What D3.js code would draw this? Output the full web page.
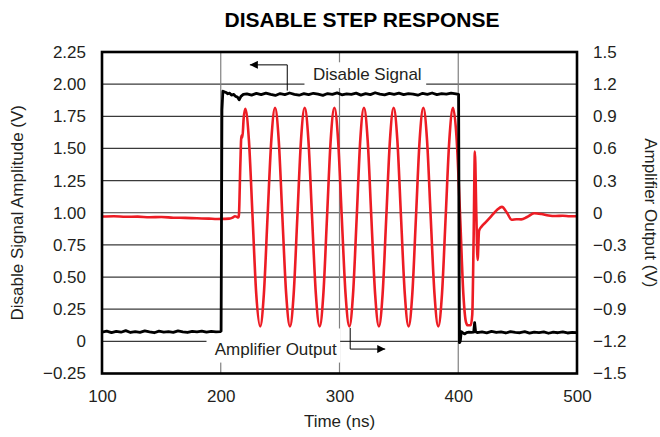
<!DOCTYPE html>
<html>
<head>
<meta charset="utf-8">
<script src="https://cdn.jsdelivr.net/npm/d3@7"></script>
<style>
  body { margin: 0; background: #fff; }
  text { font-family: "Liberation Sans", Arial, sans-serif; fill: #231f20; }
</style>
</head>
<body>
<div id="chart"></div>
<script>
// x ticks (ns)
var timeTicks = [100, 200, 300, 400, 500];
var timeGrid = [200, 300, 400];

// left axis: disable signal amplitude (V)
var leftTicks = [-0.25, 0, 0.25, 0.5, 0.75, 1.0, 1.25, 1.5, 1.75, 2.0, 2.25];
var leftLabels = ["\u22120.25", "0", "0.25", "0.50", "0.75", "1.00", "1.25", "1.50", "1.75", "2.00", "2.25"];

// right axis: amplifier output (V)
var rightTicks = [-1.5, -1.2, -0.9, -0.6, -0.3, 0, 0.3, 0.6, 0.9, 1.2, 1.5];
var rightLabels = ["\u22121.5", "\u22121.2", "\u22120.9", "\u22120.6", "\u22120.3", "0", "0.3", "0.6", "0.9", "1.2", "1.5"];

// disable signal trace (left axis)
var disableTime = [100, 104, 108, 112, 116, 120, 124, 128, 132, 136, 140, 144, 148, 152, 156, 160, 164, 168, 172, 176, 180, 184, 188, 192, 196, 199.6,
  200.3, 201.0, 201.8, 203, 204.5, 206, 207.5, 209, 211, 212.5, 214, 215.5, 217, 219,
  222, 226, 230, 234, 238, 242, 246, 250, 254, 258, 262, 266, 270, 274, 278, 282, 286, 290, 294, 298,
  302, 306, 310, 314, 318, 322, 326, 330, 334, 338, 342, 346, 350, 354, 358, 362, 366, 370, 374, 378,
  382, 386, 390, 394, 398, 400.3,
  401.0, 401.7, 402.5, 404, 405.5, 407, 409, 411, 413, 413.8, 414.6, 416,
  420, 424, 428, 432, 436, 440, 444, 448, 452, 456, 460, 464, 468, 472, 476, 480, 484, 488, 492, 496, 500];
var disableVolts = [0.072, 0.080, 0.068, 0.078, 0.071, 0.083, 0.069, 0.076, 0.070, 0.081, 0.073, 0.067, 0.079, 0.072, 0.075, 0.070, 0.082, 0.074, 0.069, 0.078, 0.073, 0.080, 0.071, 0.077, 0.074, 0.076,
  0.08, 1.80, 1.945, 1.94, 1.935, 1.925, 1.93, 1.915, 1.92, 1.905, 1.90, 1.878, 1.905, 1.92,
  1.925, 1.915, 1.928, 1.918, 1.93, 1.920, 1.912, 1.927, 1.919, 1.931, 1.921, 1.914, 1.926, 1.918, 1.929, 1.922, 1.913, 1.927, 1.920, 1.932,
  1.917, 1.925, 1.921, 1.930, 1.915, 1.926, 1.919, 1.933, 1.922, 1.916, 1.928, 1.921, 1.930, 1.918, 1.926, 1.923, 1.914, 1.929, 1.921, 1.931,
  1.918, 1.926, 1.922, 1.930, 1.924, 1.92,
  -0.01, 0.0, 0.075, 0.065, 0.058, 0.068, 0.072, 0.070, 0.071, 0.145, 0.075, 0.068,
  0.074, 0.066, 0.077, 0.069, 0.073, 0.065, 0.076, 0.070, 0.067, 0.075, 0.064, 0.072, 0.068, 0.074, 0.063, 0.071, 0.067, 0.073, 0.065, 0.070, 0.068];

// amplifier output trace (right axis)
var ampTime = [100, 110, 120, 130, 140, 150, 160, 170, 180, 190, 197, 203, 207, 210, 212, 213.5, 214.8,
  215.3, 216.5, 217.4, 218.2, 219.3, 220.6, 223.7, 226.8, 229.9, 233.2, 236.3, 239.4, 242.6,
  245.7, 248.8, 251.9, 255.1, 258.3, 261.4, 264.5, 267.6,
  270.7, 273.8, 276.9, 280.1, 283.3, 286.4, 289.5, 292.6,
  295.7, 298.8, 301.9, 305.1, 308.3, 311.4, 314.5, 317.5,
  320.6, 323.7, 326.8, 330.0, 333.2, 336.3, 339.4, 342.5,
  345.6, 348.7, 351.8, 355.0, 358.2, 361.3, 364.4, 367.5,
  370.6, 373.7, 376.8, 380.0, 383.2, 386.3, 389.4, 392.5,
  395.6, 398.7, 401.6, 404.3, 406.5, 408, 410.5, 411.8, 413.0, 414.0, 415.2, 416.3, 417.5, 419.5,
  423, 428, 433, 436.8, 441, 445, 449, 453, 458, 464, 470, 476, 482, 488, 494, 500];
var ampVolts = [-0.035, -0.032, -0.038, -0.036, -0.042, -0.040, -0.046, -0.048, -0.052, -0.055, -0.058, -0.057, -0.055, -0.045, -0.032, -0.038, -0.045,
  -0.02, 0.45, 0.72, 0.70, 0.88, 0.97, 0.68, -0.04, -0.76, -1.06, -0.76, -0.04, 0.68,
  0.98, 0.68, -0.04, -0.76, -1.06, -0.76, -0.04, 0.68,
  0.98, 0.68, -0.04, -0.76, -1.06, -0.76, -0.04, 0.68,
  0.98, 0.68, -0.04, -0.76, -1.06, -0.76, -0.04, 0.68,
  0.98, 0.68, -0.04, -0.76, -1.06, -0.76, -0.04, 0.68,
  0.98, 0.68, -0.04, -0.76, -1.06, -0.76, -0.04, 0.68,
  0.98, 0.68, -0.04, -0.76, -1.06, -0.76, -0.04, 0.68,
  0.98, 0.68, -0.04, -0.76, -1.02, -1.05, -1.05, -0.95, -0.2, 0.57, 0.0, -0.44, -0.17, -0.13,
  -0.09, -0.03, 0.03, 0.055, 0.0, -0.065, -0.06, -0.062, -0.04, -0.005, -0.012, -0.025, -0.03, -0.028, -0.033, -0.032];

var width = 660,
    height = 437;
var margin = { top: 52, right: 83, bottom: 63.5, left: 102 };
var plotW = width - margin.left - margin.right,
    plotH = height - margin.top - margin.bottom;

var svg = d3.select("#chart")
  .append("svg")
    .attr("width", width)
    .attr("height", height);

var x = d3.scaleLinear().domain([100, 500]).range([margin.left, margin.left + plotW]);
var yLeft = d3.scaleLinear().domain([-0.25, 2.25]).range([margin.top + plotH, margin.top]);
var yRight = d3.scaleLinear().domain([-1.5, 1.5]).range([margin.top + plotH, margin.top]);

// title
svg.append("text")
  .attr("x", 362)
  .attr("y", 26.5)
  .attr("text-anchor", "middle")
  .attr("font-size", "21px")
  .attr("font-weight", "bold")
  .style("fill", "#000")
  .text("DISABLE STEP RESPONSE");

// grid
var grid = svg.append("g");
grid.selectAll("line.h")
  .data(leftTicks.slice(1, -1))
  .enter()
    .append("line")
      .attr("class", "h")
      .attr("x1", margin.left)
      .attr("x2", margin.left + plotW)
      .attr("y1", function(d) { return yLeft(d); })
      .attr("y2", function(d) { return yLeft(d); })
      .attr("stroke", "#3a3a3a")
      .attr("stroke-width", 1.2);
grid.selectAll("line.v")
  .data(timeGrid)
  .enter()
    .append("line")
      .attr("class", "v")
      .attr("x1", function(d) { return x(d); })
      .attr("x2", function(d) { return x(d); })
      .attr("y1", margin.top)
      .attr("y2", margin.top + plotH)
      .attr("stroke", "#808080")
      .attr("stroke-width", 1.2);

// white boxes behind the trace labels
svg.append("rect")
  .attr("x", x(270.5)).attr("y", yLeft(2.17))
  .attr("width", x(373) - x(270.5)).attr("height", yLeft(1.97) - yLeft(2.17))
  .attr("fill", "#fff");
svg.append("rect")
  .attr("x", x(188)).attr("y", yLeft(0.1))
  .attr("width", x(300.5) - x(188)).attr("height", yLeft(-0.165) - yLeft(0.1))
  .attr("fill", "#fff");

// annotations
svg.append("defs").append("marker")
    .attr("id", "head")
    .attr("viewBox", "0 0 10 10")
    .attr("refX", 10).attr("refY", 5)
    .attr("markerWidth", 14).attr("markerHeight", 8)
    .attr("markerUnits", "userSpaceOnUse")
    .attr("orient", "auto")
  .append("path")
    .attr("d", "M0,0L10,5L0,10Z")
    .attr("fill", "#000");

svg.append("path")
  .attr("d", "M" + x(256) + "," + yLeft(1.95) + "V" + yLeft(2.15) + "H" + x(224.5))
  .attr("fill", "none").attr("stroke", "#000").attr("stroke-width", 1)
  .attr("marker-end", "url(#head)");
svg.append("path")
  .attr("d", "M" + x(309) + "," + yLeft(0.105) + "V" + yLeft(-0.06) + "H" + x(338.5))
  .attr("fill", "none").attr("stroke", "#000").attr("stroke-width", 1)
  .attr("marker-end", "url(#head)");

svg.append("text")
  .attr("x", x(323.4)).attr("y", yLeft(2.03))
  .attr("text-anchor", "middle").attr("font-size", "17px")
  .text("Disable Signal");
svg.append("text")
  .attr("x", x(246.3)).attr("y", yLeft(-0.106))
  .attr("text-anchor", "middle").attr("font-size", "17px")
  .text("Amplifier Output");

// traces
var disableData = disableTime.map(function(t, i) { return { t: t, v: disableVolts[i] }; });
var ampData = ampTime.map(function(t, i) { return { t: t, v: ampVolts[i] }; });

svg.append("path")
  .datum(ampData)
  .attr("fill", "none")
  .attr("stroke", "#ed1c24")
  .attr("stroke-width", 2.6)
  .attr("stroke-linejoin", "round")
  .attr("d", d3.line()
    .curve(d3.curveMonotoneX)
    .x(function(d) { return x(d.t); })
    .y(function(d) { return yRight(d.v); }));

svg.append("path")
  .datum(disableData)
  .attr("fill", "none")
  .attr("stroke", "#000")
  .attr("stroke-width", 2.8)
  .attr("stroke-linejoin", "round")
  .attr("d", d3.line()
    .x(function(d) { return x(d.t); })
    .y(function(d) { return yLeft(d.v); }));

// frame
svg.append("rect")
  .attr("x", margin.left).attr("y", margin.top)
  .attr("width", plotW).attr("height", plotH)
  .attr("fill", "none").attr("stroke", "#000").attr("stroke-width", 2.6);

// axes
var leftAxis = svg.append("g")
  .attr("transform", "translate(" + margin.left + ",0)")
  .call(d3.axisLeft(yLeft).tickValues(leftTicks)
    .tickFormat(function(d, i) { return leftLabels[i]; })
    .tickSize(0).tickPadding(16));
var rightAxis = svg.append("g")
  .attr("transform", "translate(" + (margin.left + plotW) + ",0)")
  .call(d3.axisRight(yRight).tickValues(rightTicks)
    .tickFormat(function(d, i) { return rightLabels[i]; })
    .tickSize(0).tickPadding(16));
var bottomAxis = svg.append("g")
  .attr("transform", "translate(0," + (margin.top + plotH) + ")")
  .call(d3.axisBottom(x).tickValues(timeTicks)
    .tickFormat(d3.format("d"))
    .tickSize(0).tickPadding(16.5));

[leftAxis, rightAxis, bottomAxis].forEach(function(axis) {
  axis.select(".domain").remove();
  axis.selectAll(".tick text")
    .attr("font-size", "17px")
    .attr("font-family", null)
    .style("fill", "#231f20");
});

// axis titles
svg.append("text")
  .attr("x", x(300)).attr("y", 427)
  .attr("text-anchor", "middle").attr("font-size", "17px")
  .text("Time (ns)");
svg.append("text")
  .attr("transform", "translate(22.5," + yLeft(1.0) + ") rotate(-90)")
  .attr("text-anchor", "middle").attr("font-size", "17px")
  .text("Disable Signal Amplitude (V)");
svg.append("text")
  .attr("transform", "translate(645," + yLeft(1.0) + ") rotate(90)")
  .attr("text-anchor", "middle").attr("font-size", "17px")
  .text("Amplifier Output (V)");
</script>
</body>
</html>
